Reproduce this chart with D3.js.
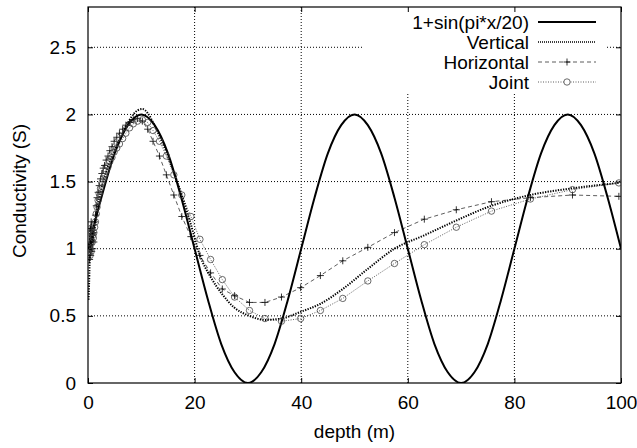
<!DOCTYPE html>
<html>
<head>
<meta charset="utf-8">
<script src="https://cdn.jsdelivr.net/npm/d3@7"></script>
<style>
  body { margin: 0; background: #fff; }
  svg { font-family: "Liberation Sans", Arial, sans-serif; }
</style>
</head>
<body>
<svg id="chart" width="637" height="448"></svg>
<script>
// sine reference, read every 2.5 m
var sineDepth = [0,2.5,5,7.5,10,12.5,15,17.5,20,22.5,25,27.5,30,32.5,35,37.5,40,42.5,45,47.5,50,
                 52.5,55,57.5,60,62.5,65,67.5,70,72.5,75,77.5,80,82.5,85,87.5,90,92.5,95,97.5,100];
var sineValue = [1.00,1.38,1.71,1.92,2.00,1.92,1.71,1.38,1.00,0.62,0.29,0.08,0.00,0.08,0.29,0.62,1.00,1.38,1.71,1.92,2.00,
                 1.92,1.71,1.38,1.00,0.62,0.29,0.08,0.00,0.08,0.29,0.62,1.00,1.38,1.71,1.92,2.00,1.92,1.71,1.38,1.00];

// inversion mesh (m)
var meshDepth = [0.3,0.4,0.5,0.6,0.7,0.8,0.9,1.0,1.1,1.25,1.4,1.55,1.7,1.9,2.1,2.35,2.6,2.85,3.1,3.4,3.75,4.1,4.5,4.9,
                 5.4,5.9,6.5,7.1,7.8,8.5,9.3,10.2,11.2,12.2,13.4,14.7,16.1,17.6,19.3,21.0,23.0,25.2,27.5,30.3,33.2,
                 36.3,39.9,43.6,47.8,52.5,57.5,63.1,69.1,75.7,83.0,90.9,99.6];

var verticalValue = [0.90,1.15,1.00,1.18,1.02,1.15,1.05,1.12,1.10,1.14,1.19,1.24,1.29,1.34,1.38,1.42,1.46,1.50,1.53,1.57,1.61,1.65,1.69,1.73,
                     1.77,1.81,1.86,1.91,1.96,2.00,2.03,2.04,2.01,1.94,1.84,1.72,1.57,1.40,1.18,0.95,0.79,0.66,0.56,0.50,0.47,
                     0.48,0.53,0.59,0.70,0.85,1.00,1.10,1.21,1.32,1.40,1.45,1.49];

var horizontalValue = [0.92,1.15,0.95,1.20,0.98,1.10,1.00,1.12,1.05,1.20,1.25,1.32,1.38,1.42,1.47,1.52,1.56,1.60,1.62,1.66,1.69,1.73,1.76,1.80,
                       1.83,1.86,1.89,1.92,1.94,1.96,1.97,1.95,1.89,1.80,1.69,1.55,1.40,1.24,1.09,0.95,0.82,0.70,0.65,0.60,0.60,
                       0.64,0.71,0.80,0.91,1.01,1.12,1.22,1.29,1.35,1.38,1.40,1.39];

var jointValue = [1.00,0.95,1.15,0.98,1.12,1.05,1.10,1.08,1.12,1.16,1.20,1.26,1.31,1.36,1.41,1.45,1.49,1.52,1.55,1.58,1.61,1.65,1.68,1.72,
                  1.75,1.78,1.82,1.86,1.90,1.93,1.95,1.96,1.94,1.88,1.80,1.69,1.55,1.40,1.24,1.07,0.92,0.77,0.64,0.54,0.48,
                  0.46,0.48,0.54,0.63,0.76,0.89,1.03,1.16,1.28,1.37,1.44,1.49];

var xTicks = [0,20,40,60,80,100];
var yTicks = [0,0.5,1,1.5,2,2.5];
var legendLabels = ["1+sin(pi*x/20)","Vertical","Horizontal","Joint"];

var svg = d3.select("#chart");
var margin = {top: 7, right: 16, bottom: 65, left: 88},
    width = 637 - margin.left - margin.right,
    height = 448 - margin.top - margin.bottom;
var fontSize = "19px";

var x = d3.scaleLinear().domain([0,100]).range([0,width]);
var y = d3.scaleLinear().domain([0,2.8]).range([height,0]);

var g = svg.append("g").attr("transform","translate(" + margin.left + "," + margin.top + ")");

g.append("clipPath").attr("id","clip")
  .append("rect").attr("width",width).attr("height",height);

// grid
g.append("g").selectAll("line").data(xTicks.slice(1,-1)).enter().append("line")
  .attr("x1",function(d){ return x(d); }).attr("x2",function(d){ return x(d); })
  .attr("y1",0).attr("y2",height)
  .attr("stroke","#000").attr("stroke-width",1).attr("stroke-dasharray","1,2");
g.append("g").selectAll("line").data(yTicks.slice(1)).enter().append("line")
  .attr("x1",0).attr("x2",width)
  .attr("y1",function(d){ return y(d); }).attr("y2",function(d){ return y(d); })
  .attr("stroke","#000").attr("stroke-width",1).attr("stroke-dasharray","1,2");

// legend box hides grid
var lg = g.append("g").attr("transform","translate(" + (362 - margin.left) + ",0)");
lg.append("rect").attr("x",0).attr("y",0).attr("width",245).attr("height",86).attr("fill","#fff");

// axes (ticks inward, mirrored)
g.append("g").attr("transform","translate(0," + height + ")")
  .call(d3.axisBottom(x).tickValues(xTicks).tickSize(-5).tickPadding(13).tickFormat(d3.format("d")));
g.append("g").call(d3.axisTop(x).tickValues(xTicks).tickSize(-5).tickFormat(""));
g.append("g")
  .call(d3.axisLeft(y).tickValues(yTicks).tickSize(-5).tickPadding(12).tickFormat(function(d){ return d; }));
g.append("g").attr("transform","translate(" + width + ",0)")
  .call(d3.axisRight(y).tickValues(yTicks).tickSize(-5).tickFormat(""));
g.selectAll(".domain").remove();
g.selectAll(".tick line").attr("stroke","#000");
g.selectAll(".tick text").attr("font-size",fontSize).attr("fill","#000").attr("font-family","Liberation Sans, Arial, sans-serif");

g.append("rect").attr("width",width).attr("height",height)
  .attr("fill","none").attr("stroke","#000").attr("stroke-width",1.2);

var plot = g.append("g").attr("clip-path","url(#clip)");

var line = d3.line()
  .x(function(d){ return x(d[0]); })
  .y(function(d){ return y(d[1]); });

var sinePts = d3.zip(sineDepth, sineValue);
var verticalPts = [[0.1,0.62]].concat(d3.zip(meshDepth, verticalValue));
var horizontalPts = d3.zip(meshDepth, horizontalValue);
var jointPts = d3.zip(meshDepth, jointValue);

plot.append("path").datum(jointPts).attr("d",line)
  .attr("fill","none").attr("stroke","#333").attr("stroke-width",0.8).attr("stroke-dasharray","1,1.5");
plot.append("path").datum(horizontalPts).attr("d",line)
  .attr("fill","none").attr("stroke","#333").attr("stroke-width",0.8).attr("stroke-dasharray","4,3");
plot.append("path").datum(verticalPts).attr("d",line.curve(d3.curveMonotoneX))
  .attr("fill","none").attr("stroke","#000").attr("stroke-width",2).attr("stroke-dasharray","1.3,1.3");
plot.append("path").datum(sinePts).attr("d",line.curve(d3.curveMonotoneX))
  .attr("fill","none").attr("stroke","#000").attr("stroke-width",2);

// markers
function plus(sel){
  sel.append("path").attr("d","M-3.5,0H3.5M0,-3.5V3.5").attr("stroke","#000").attr("stroke-width",0.8);
}
plot.append("g").selectAll("g").data(horizontalPts).enter().append("g")
  .attr("transform",function(d){ return "translate(" + x(d[0]) + "," + y(d[1]) + ")"; })
  .call(plus);
plot.append("g").selectAll("circle").data(jointPts).enter().append("circle")
  .attr("cx",function(d){ return x(d[0]); }).attr("cy",function(d){ return y(d[1]); })
  .attr("r",3.2).attr("fill","none").attr("stroke","#444").attr("stroke-width",0.8);

// legend
var rowY = [15,35,55,75];
var sx0 = 538 - 362, sx1 = 596 - 362;
lg.selectAll("text").data(legendLabels).enter().append("text")
  .attr("x",529 - 362).attr("y",function(d,i){ return rowY[i]; })
  .attr("dy","0.35em").attr("text-anchor","end").attr("font-size",fontSize).text(function(d){ return d; });
lg.append("line").attr("x1",sx0).attr("x2",sx1).attr("y1",rowY[0]).attr("y2",rowY[0])
  .attr("stroke","#000").attr("stroke-width",2);
lg.append("line").attr("x1",sx0).attr("x2",sx1).attr("y1",rowY[1]).attr("y2",rowY[1])
  .attr("stroke","#000").attr("stroke-width",1.5).attr("stroke-dasharray","1,1");
lg.append("line").attr("x1",sx0).attr("x2",sx1).attr("y1",rowY[2]).attr("y2",rowY[2])
  .attr("stroke","#333").attr("stroke-width",0.8).attr("stroke-dasharray","4,3");
lg.append("g").attr("transform","translate(" + ((sx0 + sx1) / 2) + "," + rowY[2] + ")").call(plus);
lg.append("line").attr("x1",sx0).attr("x2",sx1).attr("y1",rowY[3]).attr("y2",rowY[3])
  .attr("stroke","#333").attr("stroke-width",0.8).attr("stroke-dasharray","1,1.5");
lg.append("circle").attr("cx",(sx0 + sx1) / 2).attr("cy",rowY[3]).attr("r",3.2)
  .attr("fill","#fff").attr("stroke","#444").attr("stroke-width",0.8);

// axis titles
svg.append("text").attr("x",margin.left + width / 2).attr("y",438)
  .attr("text-anchor","middle").attr("font-size",fontSize).text("depth (m)");
svg.append("text").attr("transform","translate(19,191) rotate(-90)")
  .attr("text-anchor","middle").attr("dy","0.35em").attr("font-size",fontSize).text("Conductivity (S)");
</script>
</body>
</html>
